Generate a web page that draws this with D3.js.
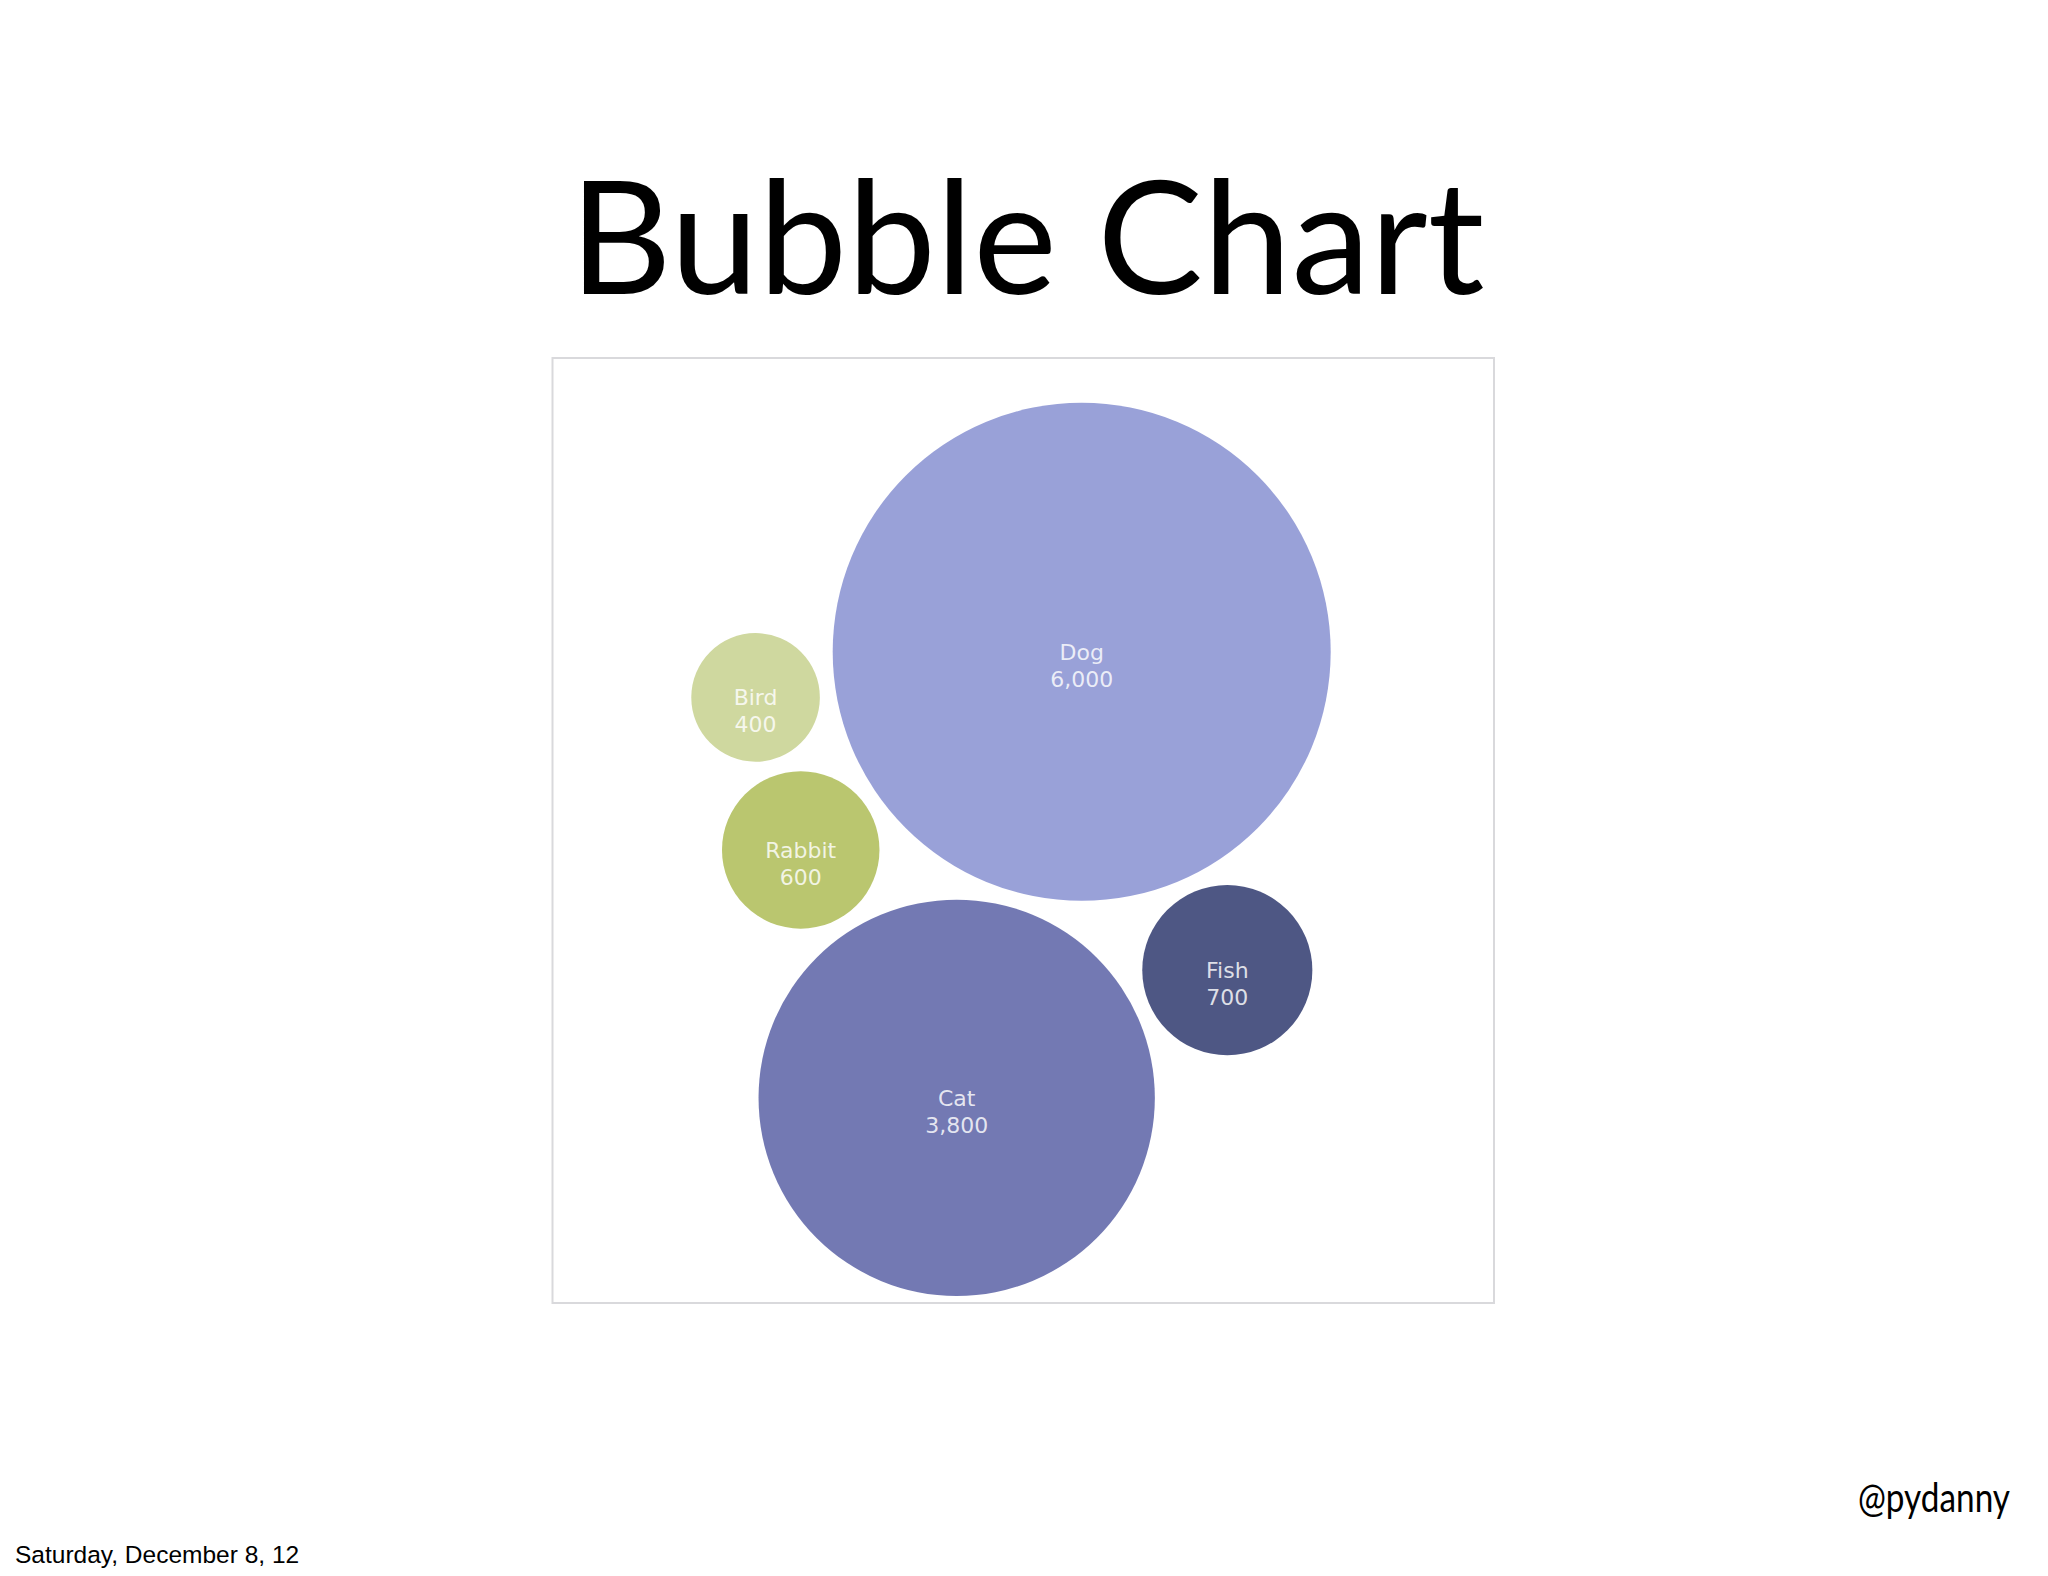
<!DOCTYPE html>
<html>
<head>
<title>Bubble Chart</title>
<script src="https://d3js.org/d3.v7.min.js"></script>
<style>
    body{
        margin:0;
        background-color:#ffffff;
    }
    .label {
        font-family:'DejaVu Sans', sans-serif;
        font-size:22px;
        fill:#ffffff;
        fill-opacity:0.82;
    }
</style>
</head>
<body>
<svg id="svg" width="2048" height="1576"></svg>
<script>

// data, in the order the packing is seeded with
var pets = ["Fish", "Rabbit", "Dog", "Cat", "Bird"];
var counts = [700, 600, 6000, 3800, 400];
var palette = ["#4e5784", "#bac66f", "#99a1d8", "#7379b3", "#cfd89f"];

var width = 2048, height = 1576;
var frame = {x: 552.5, y: 358, w: 941.5, h: 945};
var maxRadius = 249;
var padding = 8;
var layoutTurn = 32 * Math.PI / 180;   // turn of the packed cluster

var svg = d3.select('#svg');

svg.append('text')
    .attr('x', 1027)
    .attr('y', 294)
    .attr('text-anchor', 'middle')
    .attr('textLength', 915)
    .attr('lengthAdjust', 'spacingAndGlyphs')
    .style('font-family', 'Lato, sans-serif')
    .style('font-size', '158px')
    .style('fill', '#000')
    .text('Bubble Chart');

svg.append('rect')
    .attr('x', frame.x)
    .attr('y', frame.y)
    .attr('width', frame.w)
    .attr('height', frame.h)
    .attr('fill', '#fff')
    .attr('stroke', '#d9d9dc')
    .attr('stroke-width', 2);

var radius = d3.scaleSqrt().domain([0, d3.max(counts)]).range([0, maxRadius]);
var color = d3.scaleOrdinal().domain(pets).range(palette);
var fmt = d3.format(',');

var nodes = pets.map(function(p, i){
    return {name: p, value: counts[i], r: radius(counts[i])};
});

var sim = d3.forceSimulation(nodes)
    .force('x', d3.forceX(0).strength(0.05))
    .force('y', d3.forceY(0).strength(0.05))
    .force('collide', d3.forceCollide(function(d){ return d.r + padding; }))
    .stop();
sim.tick(300);

// turn the cluster, then put its area-weighted centre on the frame centre
var cos = Math.cos(layoutTurn), sin = Math.sin(layoutTurn);
nodes.forEach(function(d){
    var x = d.x * cos - d.y * sin;
    var y = d.x * sin + d.y * cos;
    d.x = x; d.y = y;
});
var total = d3.sum(nodes, function(d){ return d.value; });
var mx = d3.sum(nodes, function(d){ return d.x * d.value; }) / total,
    my = d3.sum(nodes, function(d){ return d.y * d.value; }) / total;
var dx = frame.x + frame.w / 2 - mx,
    dy = frame.y + frame.h / 2 - my;

var bubbles = svg.append('g')
    .attr('transform', 'translate(' + dx + ',' + dy + ')');

var node = bubbles.selectAll('g.bubble')
    .data(nodes)
    .enter().append('g')
    .attr('class', 'bubble')
    .attr('transform', function(d){ return 'translate(' + d.x + ',' + d.y + ')'; });

node.append('circle')
    .attr('r', function(d){ return d.r; })
    .attr('fill', function(d){ return color(d.name); });

var label = node.append('text')
    .attr('class', 'label')
    .attr('text-anchor', 'middle');
label.append('tspan')
    .attr('x', 0)
    .attr('dy', '0.36em')
    .text(function(d){ return d.name; });
label.append('tspan')
    .attr('x', 0)
    .attr('dy', 27)
    .text(function(d){ return fmt(d.value); });

svg.append('text')
    .attr('x', 2010)
    .attr('y', 1512)
    .attr('text-anchor', 'end')
    .attr('textLength', 152)
    .attr('lengthAdjust', 'spacingAndGlyphs')
    .style('font-family', 'Lato, sans-serif')
    .style('font-size', '40px')
    .style('fill', '#000')
    .text('@pydanny');

svg.append('text')
    .attr('x', 15)
    .attr('y', 1563)
    .style('font-family', '"Liberation Sans", Arial, sans-serif')
    .style('font-size', '24.5px')
    .style('fill', '#000')
    .text('Saturday, December 8, 12');

</script>
</body>
</html>
